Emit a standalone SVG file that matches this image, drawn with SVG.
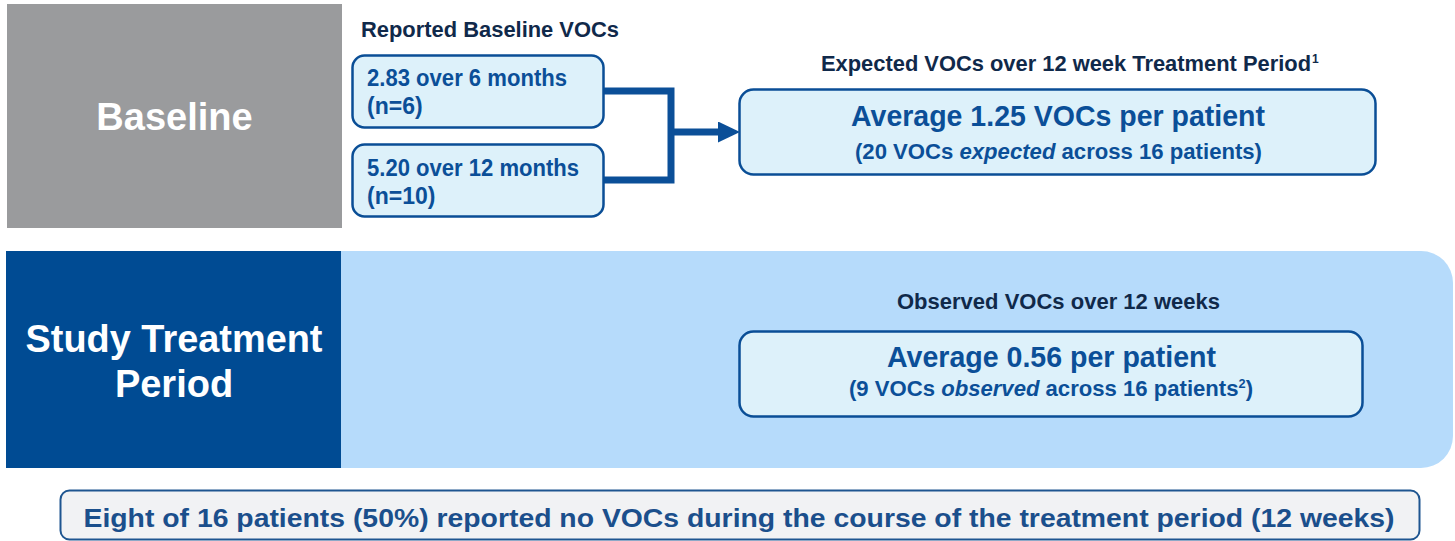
<svg xmlns="http://www.w3.org/2000/svg" width="1455" height="541" viewBox="0 0 1455 541">
  <defs>
    <style>
      text { font-family: "Liberation Sans", Arial, sans-serif; font-weight: bold; }
      .box { fill: #ddf1fa; stroke: #0a4e96; stroke-width: 2.5; }
      .boxtxt { fill: #0b4f98; }
      .hdr { fill: #10294a; }
      .big { fill: #ffffff; font-size: 38px; }
      .conn { fill: none; stroke: #0b4f98; stroke-width: 7; }
      .it { font-style: italic; }
    </style>
    <marker id="arrow" markerUnits="userSpaceOnUse" markerWidth="22" markerHeight="21" refX="0" refY="10.5" orient="auto" viewBox="0 0 22 21">
      <path d="M0,0 L22,10.5 L0,21 Z" fill="#0b4f98"/>
    </marker>
  </defs>
  <rect width="1455" height="541" fill="#ffffff"/>

  <g id="baseline-panel">
    <rect x="7" y="4" width="335" height="224" fill="#9a9b9d"/>
    <text class="big" x="174.5" y="130" text-anchor="middle">Baseline</text>
  </g>

  <g id="treatment-panel">
    <path d="M341 251 H1421 A32 32 0 0 1 1453 283 V436 A32 32 0 0 1 1421 468 H341 Z" fill="#b6dbfb"/>
    <rect x="6" y="251" width="335" height="217" fill="#004b93"/>
    <text class="big" x="174" y="352" text-anchor="middle" textLength="297" lengthAdjust="spacingAndGlyphs">Study Treatment</text>
    <text class="big" x="174" y="397" text-anchor="middle">Period</text>
  </g>

  <g id="connectors">
    <path class="conn" d="M604 91 H671 V180 H604"/>
    <path class="conn" d="M671 132 H718" stroke-width="8" marker-end="url(#arrow)"/>
  </g>

  <g id="reported-header">
    <text class="hdr" x="361" y="37" font-size="21.5" textLength="258" lengthAdjust="spacingAndGlyphs">Reported Baseline VOCs</text>
  </g>

  <g id="box-6months">
    <rect class="box" x="352.5" y="55.5" width="251" height="72" rx="12"/>
    <text class="boxtxt" x="367" y="86" font-size="23" textLength="200" lengthAdjust="spacingAndGlyphs">2.83 over 6 months</text>
    <text class="boxtxt" x="367" y="114" font-size="23">(n=6)</text>
  </g>

  <g id="box-12months">
    <rect class="box" x="352.5" y="144.5" width="251" height="72" rx="12"/>
    <text class="boxtxt" x="367" y="176" font-size="23" textLength="212" lengthAdjust="spacingAndGlyphs">5.20 over 12 months</text>
    <text class="boxtxt" x="367" y="204" font-size="23">(n=10)</text>
  </g>

  <g id="expected-header">
    <text class="hdr" x="821" y="71" font-size="21.5" textLength="490" lengthAdjust="spacingAndGlyphs">Expected VOCs over 12 week Treatment Period</text>
    <text class="hdr" x="1312" y="63" font-size="12">1</text>
  </g>

  <g id="box-expected">
    <rect class="box" x="739.5" y="89.5" width="636" height="85" rx="14"/>
    <text class="boxtxt" x="1058" y="126" font-size="30" text-anchor="middle" textLength="414" lengthAdjust="spacingAndGlyphs">Average 1.25 VOCs per patient</text>
    <text class="boxtxt" x="1058.5" y="159" font-size="22.5" text-anchor="middle" textLength="407" lengthAdjust="spacingAndGlyphs">(20 VOCs <tspan class="it">expected</tspan> across 16 patients)</text>
  </g>

  <g id="observed-header">
    <text class="hdr" x="1058.5" y="309" font-size="21.5" text-anchor="middle" textLength="323" lengthAdjust="spacingAndGlyphs">Observed VOCs over 12 weeks</text>
  </g>

  <g id="box-observed">
    <rect class="box" x="739.5" y="331.5" width="623" height="85" rx="14"/>
    <text class="boxtxt" x="1051.5" y="367" font-size="30" text-anchor="middle" textLength="329" lengthAdjust="spacingAndGlyphs">Average 0.56 per patient</text>
    <text class="boxtxt" x="1051" y="395.5" font-size="22.5" text-anchor="middle" textLength="404" lengthAdjust="spacingAndGlyphs">(9 VOCs <tspan class="it">observed</tspan> across 16 patients<tspan font-size="13" dy="-8">2</tspan><tspan dy="8">)</tspan></text>
  </g>

  <g id="summary-box">
    <rect x="60.5" y="490.5" width="1359" height="49" rx="9" fill="#f1f2f4" stroke="#1e5590" stroke-width="2"/>
    <text x="739" y="527" font-size="26.5" fill="#1b4f8c" text-anchor="middle" textLength="1311" lengthAdjust="spacingAndGlyphs">Eight of 16 patients (50%) reported no VOCs during the course of the treatment period (12 weeks)</text>
  </g>
</svg>
